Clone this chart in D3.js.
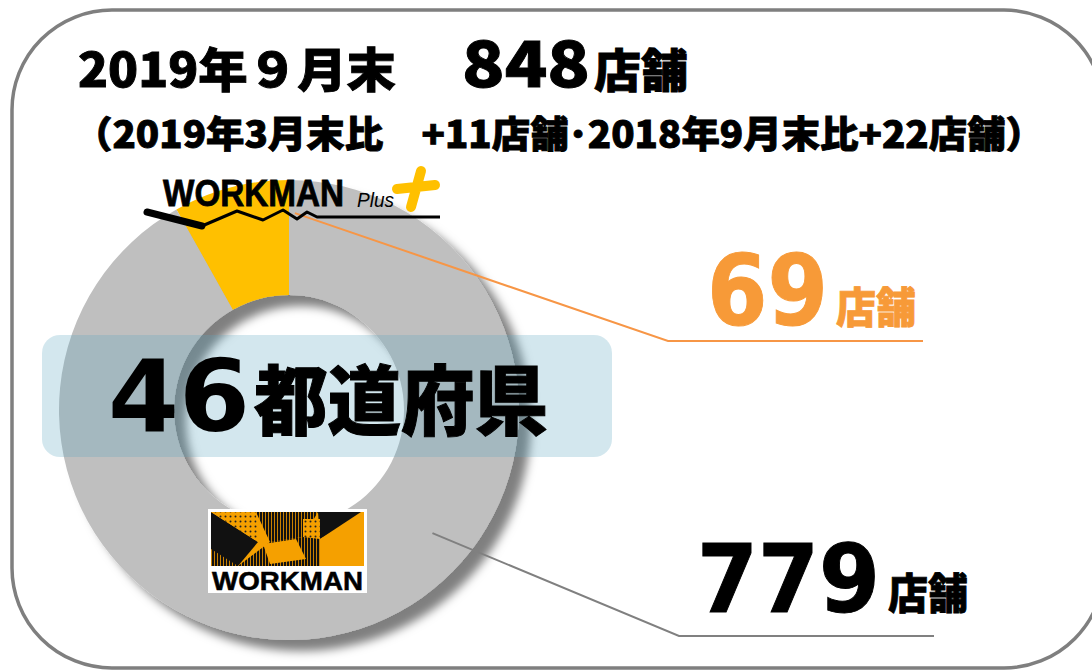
<!DOCTYPE html>
<html>
<head>
<meta charset="utf-8">
<script src="https://cdn.jsdelivr.net/npm/d3@7"></script>
<style>
  body { margin: 0; background: #fff; }
  svg { display: block; }
</style>
</head>
<body>
<svg id="chart" width="1092" height="670"></svg>
<script>
// store data (2019年9月末)
const brands = ['WORKMAN Plus', 'WORKMAN'];
const storeCounts = [69, 779];
const sliceColors = ['#FFC000', '#BFBFBF'];
const countUnit = '店舗';
const headDate = '2019年９月末';
const headTotal = '848';
const subLine = '（2019年3月末比　+11店舗･2018年9月末比+22店舗）';
const prefNum = '46';
const prefText = '都道府県';

const W = 1092, H = 670;
const cx = 289, cy = 410, rOuter = 230, rInner = 115;
const JP = '"Noto Sans CJK JP", "Noto Sans", sans-serif';
const LAT = '"DejaVu Sans", Verdana, sans-serif';
const ARIAL = '"Liberation Sans", Arial, sans-serif';

const svg = d3.select('#chart');
const defs = svg.append('defs');

const shadow = defs.append('filter').attr('id', 'shadow')
    .attr('x', '-20%').attr('y', '-20%').attr('width', '140%').attr('height', '140%');
shadow.append('feDropShadow')
    .attr('dx', 12).attr('dy', 11).attr('stdDeviation', 5)
    .attr('flood-color', '#000').attr('flood-opacity', 0.5);

// outer frame
svg.append('rect')
    .attr('x', 12).attr('y', 10).attr('width', 1092).attr('height', 658)
    .attr('rx', 100).attr('ry', 100)
    .attr('fill', '#fff').attr('stroke', '#7F7F7F').attr('stroke-width', 3.5);

// headline (a thin stroke makes the glyphs as heavy as the original)
const head = svg.append('g').attr('font-family', JP).attr('font-weight', 900)
    .attr('fill', '#000').attr('stroke', '#000').attr('stroke-width', 0.9);
head.append('text').attr('x', 78).attr('y', 87).attr('font-size', 47)
    .attr('textLength', 318).attr('lengthAdjust', 'spacingAndGlyphs').text(headDate);
head.append('text').attr('x', 462).attr('y', 87).attr('font-size', 64)
    .attr('textLength', 128).attr('lengthAdjust', 'spacingAndGlyphs').text(headTotal);
head.append('text').attr('x', 594).attr('y', 87).attr('font-size', 46)
    .attr('textLength', 94).attr('lengthAdjust', 'spacingAndGlyphs').text(countUnit);
head.append('text').attr('x', 74).attr('y', 148).attr('font-size', 37)
    .attr('textLength', 970).attr('lengthAdjust', 'spacingAndGlyphs').text(subLine);

// donut
const total = d3.sum(storeCounts);
const start = -2 * Math.PI * storeCounts[0] / total;
const pie = d3.pie().sort(null).startAngle(start).endAngle(start + 2 * Math.PI);
const arc = d3.arc().innerRadius(rInner).outerRadius(rOuter);
const slices = pie(storeCounts);

const donut = svg.append('g').attr('transform', `translate(${cx},${cy})`).attr('filter', 'url(#shadow)');
donut.selectAll('path').data(slices).join('path')
    .attr('d', arc)
    .attr('fill', (d, i) => sliceColors[i]);

// 46都道府県 band
svg.append('rect')
    .attr('x', 42).attr('y', 335).attr('width', 570).attr('height', 122)
    .attr('rx', 18).attr('fill', '#5BA8C0').attr('fill-opacity', 0.27);
svg.append('text').attr('x', 108).attr('y', 431)
    .attr('font-family', LAT).attr('font-weight', 700).attr('font-size', 100)
    .attr('textLength', 142).attr('lengthAdjust', 'spacingAndGlyphs').text(prefNum);
svg.append('text').attr('x', 254).attr('y', 429)
    .attr('font-family', JP).attr('font-weight', 900).attr('font-size', 76)
    .attr('stroke', '#000').attr('stroke-width', 1)
    .attr('textLength', 294).attr('lengthAdjust', 'spacingAndGlyphs').text(prefText);

// leader lines + labels
const labels = [
    { anchor: d3.pointRadial(0.03, 197), bend: [668, 341], end: 923, color: '#F79A38', lineColor: '#F79646',
      numX: 707, numY: 325, numW: 121, size: 98, unitX: 836, unitY: 323 },
    { anchor: d3.pointRadial(2.28, 189), bend: [679, 636], end: 934, color: '#000', lineColor: '#808080',
      numX: 697, numY: 612, numW: 183, size: 94, unitX: 888, unitY: 609 }
];

labels.forEach((l, i) => {
    const p0 = [cx + l.anchor[0], cy + l.anchor[1]];
    svg.append('path')
        .attr('d', d3.line()([p0, l.bend, [l.end, l.bend[1]]]))
        .attr('fill', 'none').attr('stroke', l.lineColor).attr('stroke-width', 2);
    svg.append('text').attr('x', l.numX).attr('y', l.numY)
        .attr('font-family', LAT).attr('font-weight', 700).attr('font-size', l.size)
        .attr('fill', l.color).attr('stroke', l.color).attr('stroke-width', 1)
        .attr('textLength', l.numW).attr('lengthAdjust', 'spacingAndGlyphs')
        .text(storeCounts[i]);
    svg.append('text').attr('x', l.unitX).attr('y', l.unitY)
        .attr('font-family', JP).attr('font-weight', 900).attr('font-size', 42)
        .attr('fill', l.color).attr('stroke', l.color).attr('stroke-width', 0.8)
        .attr('textLength', 80).attr('lengthAdjust', 'spacingAndGlyphs')
        .text(countUnit);
});

// WORKMAN Plus logo
const plus = svg.append('g');
plus.append('path')
    .attr('d', 'M147,212 L202,226')
    .attr('stroke', '#000').attr('stroke-width', 7).attr('stroke-linecap', 'round');
plus.append('path')
    .attr('d', 'M202,226 L237,211 L263,220 L283,210 L297,219 L307,212 L317,217 L440,217')
    .attr('fill', 'none').attr('stroke', '#000').attr('stroke-width', 3).attr('stroke-linejoin', 'round');
plus.append('text').attr('x', 163).attr('y', 206)
    .attr('font-family', ARIAL).attr('font-weight', 700).attr('font-size', 36)
    .attr('stroke', '#000').attr('stroke-width', 0.8)
    .attr('textLength', 181).attr('lengthAdjust', 'spacingAndGlyphs').text('WORKMAN');
plus.append('text').attr('x', 357).attr('y', 207)
    .attr('font-family', ARIAL).attr('font-style', 'italic').attr('font-size', 20)
    .attr('textLength', 37).attr('lengthAdjust', 'spacingAndGlyphs').text('Plus');
plus.append('path')
    .attr('d', 'M421,171 L411,207 M397,189 L435,185')
    .attr('stroke', '#FFC000').attr('stroke-width', 10).attr('stroke-linecap', 'round');

// WORKMAN logo
const wm = svg.append('g').attr('transform', 'translate(208,509)');
const dots = defs.append('pattern').attr('id', 'dots').attr('patternUnits', 'userSpaceOnUse')
    .attr('width', 5).attr('height', 5);
dots.append('rect').attr('width', 5).attr('height', 5).attr('fill', '#F5A000');
dots.append('circle').attr('cx', 2.5).attr('cy', 2.5).attr('r', 1).attr('fill', '#222');
const hatch = defs.append('pattern').attr('id', 'hatch').attr('patternUnits', 'userSpaceOnUse')
    .attr('width', 3).attr('height', 3);
hatch.append('rect').attr('width', 3).attr('height', 3).attr('fill', '#111');
hatch.append('rect').attr('width', 1).attr('height', 3).attr('fill', '#C98000');

wm.append('rect').attr('width', 159).attr('height', 84).attr('fill', '#fff');
wm.append('rect').attr('x', 3).attr('y', 3).attr('width', 153).attr('height', 54).attr('fill', '#F5A000');
const blk = '#111';
[
    [[[3, 3], [3, 57], [30, 57], [50, 33]], blk],
    [[[3, 3], [48, 3], [50, 33]], 'url(#dots)'],
    [[[48, 3], [110, 3], [95, 28], [62, 33]], 'url(#hatch)'],
    [[[110, 3], [153, 3], [112, 30]], blk],
    [[[95, 10], [112, 10], [112, 30], [95, 28]], 'url(#dots)'],
    [[[30, 57], [62, 33], [95, 28], [112, 30], [112, 57]], 'url(#hatch)'],
    [[[3, 40], [3, 57], [30, 57]], 'url(#hatch)']
].forEach(([pts, fill]) => {
    wm.append('path').attr('d', d3.line()(pts) + 'Z').attr('fill', fill);
});
wm.append('path').attr('d', d3.line()([[55, 35], [88, 30], [98, 50], [62, 55]]) + 'Z').attr('fill', '#F5A000');
wm.append('path').attr('d', d3.line()([[112, 30], [156, 5], [156, 57], [112, 57]]) + 'Z').attr('fill', '#F5A000');
wm.append('text').attr('x', 4).attr('y', 81)
    .attr('font-family', ARIAL).attr('font-weight', 700).attr('font-size', 25)
    .attr('stroke', '#000').attr('stroke-width', 0.5)
    .attr('textLength', 151).attr('lengthAdjust', 'spacingAndGlyphs').text('WORKMAN');
</script>
</body>
</html>
